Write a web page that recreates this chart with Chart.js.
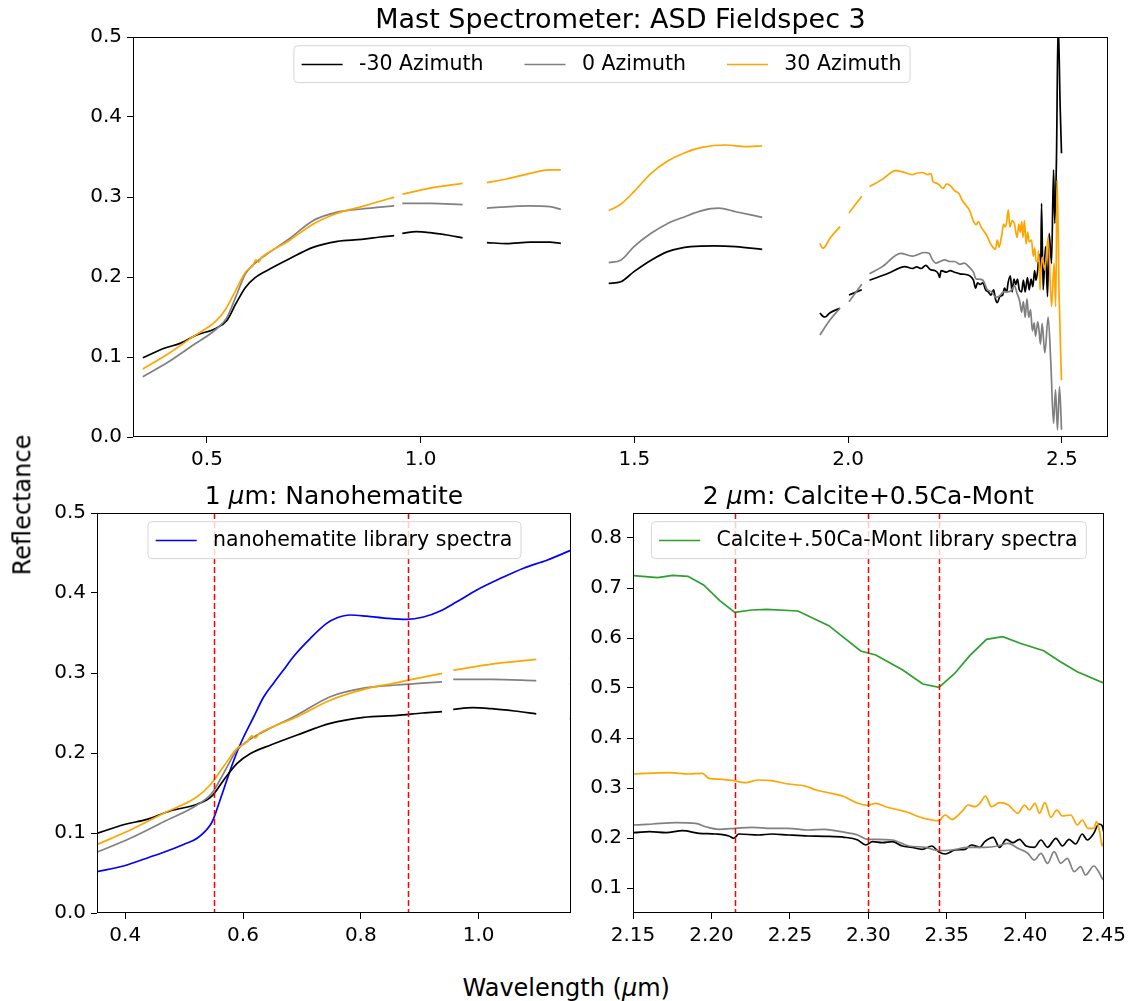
<!DOCTYPE html>
<html>
<head>
<meta charset="utf-8">
<script src="https://cdn.jsdelivr.net/npm/chart.js@4/dist/chart.umd.min.js"></script>
<style>
  body { margin: 0; background: #fff; }
  #fig { position: relative; width: 1131px; height: 1001px; font-family: "DejaVu Sans", sans-serif; color: #000; }
  #fig canvas { position: absolute; }
  .sup { position: absolute; font-size: 24px; white-space: nowrap; }
</style>
</head>
<body>
<div id="fig">
  <canvas id="mast" width="1131" height="480" style="left:0;top:0"></canvas>
  <canvas id="near" width="580" height="480" style="left:0;top:480px"></canvas>
  <canvas id="far" width="551" height="480" style="left:580px;top:480px"></canvas>
  <div class="sup" id="ylab">Reflectance</div>
  <div class="sup" id="xlab">Wavelength (<i>μ</i>m)</div>
</div>
<script>
// ---- spectra, [wavelength um, reflectance]; null marks a gap (water bands / detector joins)
var azNeg30 = [
  [0.350,0.099],[0.400,0.111],[0.437,0.117],[0.476,0.1275],[0.522,0.136],[0.547,0.146],[0.567,0.166],
  [0.590,0.187],[0.612,0.199],[0.647,0.210],[0.692,0.2225],[0.748,0.237],[0.805,0.2446],[0.862,0.247],
  [0.905,0.250],[0.938,0.2517],[0.947,null],
  [0.957,0.2546],[0.990,0.2567],[1.022,0.2554],[1.061,0.2525],[1.098,0.249],[1.127,null],
  [1.155,0.243],[1.201,0.2417],[1.256,0.2437],[1.302,0.2437],[1.328,0.242],[1.38,null],
  [1.440,0.192],[1.468,0.194],[1.499,0.2067],[1.539,0.221],[1.578,0.2317],[1.632,0.238],[1.688,0.239],
  [1.737,0.238],[1.799,0.2346],[1.86,null],
  [1.934,0.155],[1.941,0.151],[1.946,0.150],[1.957,0.155],[1.981,0.161],[1.99,null],
  [2.002,0.1775],[2.032,0.184],[2.04,null],
  [2.050,0.196],[2.094,0.2046],[2.133,0.213],
  [2.150,0.2106],[2.1605,0.2126],[2.1711,0.2106],[2.1816,0.2146],[2.1921,0.2094],[2.2026,0.208],
  [2.2111,0.204],[2.2142,0.1994],[2.2174,0.208],[2.2300,0.206],[2.2384,0.208],[2.2490,0.206],
  [2.2616,0.204],[2.2721,0.2034],[2.2847,0.2014],[2.2932,0.196],[2.2984,0.186],[2.3026,0.1926],
  [2.3089,0.1906],[2.3153,0.1926],[2.3216,0.184],[2.3279,0.1814],[2.3342,0.1774],[2.3405,0.184],
  [2.3447,0.1726],[2.3490,0.168],[2.3553,0.176],[2.3616,0.1774],[2.3658,0.186],[2.3710,0.1814],
  [2.3742,0.1926],[2.3795,0.2014],[2.3837,0.1814],[2.3879,0.1974],[2.3921,0.1906],[2.3963,0.1974],
  [2.4005,0.184],[2.4058,0.1814],[2.4100,0.196],[2.4142,0.1814],[2.4195,0.1994],[2.4237,0.184],
  [2.4279,0.1974],[2.4321,0.188],[2.4363,0.208],[2.4395,0.196],[2.4437,0.2094],[2.4468,0.228],
  [2.4490,0.2246],[2.4505,0.208],[2.4525,0.292],[2.4563,0.184],[2.4619,0.238],[2.4665,0.1754],
  [2.4703,0.2546],[2.4759,0.217],[2.4806,0.334],[2.4836,0.267],[2.4875,0.350],[2.4914,0.52],
  [2.4961,0.413],[2.4992,0.3546]
];
var az0 = [
  [0.350,0.0754],[0.4085,0.0934],[0.4653,0.114],[0.522,0.135],[0.547,0.1496],[0.567,0.1746],[0.590,0.204],
  [0.612,0.217],[0.635,0.2266],[0.692,0.2475],[0.748,0.2704],[0.805,0.281],[0.862,0.285],[0.898,0.287],
  [0.938,0.289],[0.947,null],
  [0.957,0.292],[1.022,0.292],[1.098,0.2904],[1.127,null],
  [1.155,0.286],[1.256,0.289],[1.302,0.288],[1.328,0.2846],[1.38,null],
  [1.440,0.218],[1.468,0.221],[1.499,0.238],[1.539,0.2546],[1.578,0.267],[1.618,0.2754],[1.658,0.283],
  [1.697,0.286],[1.737,0.2816],[1.799,0.2746],[1.86,null],
  [1.934,0.1275],[1.957,0.146],[1.981,0.161],[1.99,null],
  [2.002,0.169],[2.032,0.191],[2.04,null],
  [2.050,0.204],[2.080,0.213],[2.123,0.2296],
  [2.150,0.226],[2.1626,0.228],[2.1774,0.2306],[2.1900,0.2294],[2.1963,0.2226],[2.2048,0.2174],
  [2.2153,0.2194],[2.2258,0.2214],[2.2384,0.2194],[2.2490,0.2194],[2.2616,0.216],[2.2721,0.2174],
  [2.2826,0.2126],[2.2932,0.206],[2.2995,0.1974],[2.3047,0.1974],[2.3153,0.196],[2.3258,0.184],
  [2.3363,0.1814],[2.3447,0.1746],[2.3532,0.176],[2.3637,0.1814],[2.3742,0.1814],[2.3826,0.184],
  [2.3890,0.1894],[2.3953,0.1794],[2.4016,0.1694],[2.4058,0.156],[2.4100,0.1694],[2.4142,0.1494],
  [2.4184,0.1726],[2.4226,0.1494],[2.4268,0.1594],[2.4311,0.1326],[2.4353,0.1426],[2.4384,0.126],
  [2.4437,0.144],[2.4468,0.1326],[2.4500,0.116],[2.4539,0.142],[2.4602,0.105],[2.4680,0.150],
  [2.4743,0.092],[2.4806,0.017],[2.4852,0.059],[2.4898,0.009],[2.4945,0.063],[2.4992,0.009]
];
var az30 = [
  [0.350,0.085],[0.4085,0.1037],[0.4653,0.1246],[0.522,0.1454],[0.544,0.160],[0.567,0.183],[0.590,0.206],
  [0.607,0.214],[0.615,0.2215],[0.621,0.2185],[0.627,0.224],[0.635,0.2275],[0.692,0.2454],[0.748,0.266],
  [0.805,0.2796],[0.862,0.288],[0.900,0.294],[0.938,0.2996],[0.947,null],
  [0.957,0.3034],[1.022,0.311],[1.098,0.317],[1.127,null],
  [1.155,0.318],[1.201,0.3225],[1.256,0.3296],[1.302,0.334],[1.328,0.334],[1.38,null],
  [1.440,0.283],[1.468,0.291],[1.499,0.3067],[1.539,0.3296],[1.578,0.345],[1.618,0.3554],[1.658,0.362],
  [1.713,0.365],[1.761,0.363],[1.799,0.364],[1.86,null],
  [1.934,0.242],[1.940,0.236],[1.946,0.238],[1.957,0.248],[1.981,0.263],[1.99,null],
  [2.002,0.280],[2.032,0.301],[2.04,null],
  [2.050,0.313],[2.080,0.322],[2.111,0.333],[2.130,0.331],
  [2.150,0.328],[2.1584,0.3294],[2.1732,0.3306],[2.1858,0.328],[2.1942,0.3294],[2.1984,0.3194],
  [2.2068,0.3174],[2.2142,0.3146],[2.2216,0.3106],[2.2300,0.316],[2.2384,0.3146],[2.2490,0.308],
  [2.2595,0.304],[2.2668,0.296],[2.2763,0.2894],[2.2847,0.2826],[2.2932,0.2694],[2.2995,0.2654],
  [2.3047,0.2694],[2.3111,0.2626],[2.3195,0.256],[2.3258,0.2506],[2.3321,0.2426],[2.3384,0.2374],
  [2.3447,0.2346],[2.3490,0.246],[2.3532,0.2374],[2.3595,0.2526],[2.3637,0.266],[2.3679,0.2626],
  [2.3710,0.2694],[2.3747,0.284],[2.3784,0.2626],[2.3837,0.2706],[2.3890,0.2666],[2.3953,0.2494],
  [2.3995,0.266],[2.4026,0.256],[2.4062,0.2694],[2.4090,0.2494],[2.4125,0.2706],[2.4163,0.2414],
  [2.4201,0.256],[2.4237,0.244],[2.4290,0.246],[2.4332,0.226],[2.4363,0.236],[2.4399,0.2194],
  [2.4437,0.2194],[2.4454,0.2326],[2.4474,0.2126],[2.4490,0.184],[2.4505,0.1994],[2.4539,0.225],
  [2.4602,0.209],[2.4680,0.250],[2.4759,0.163],[2.4820,0.217],[2.4856,0.163],[2.4890,0.321],
  [2.4937,0.175],[2.4992,0.071]
];
// library spectra
var nanohematite = [
  [0.352,0.0516],[0.397,0.0588],[0.442,0.070],[0.4653,0.076],[0.500,0.086],[0.522,0.0934],[0.5444,0.110],
  [0.550,0.118],[0.5558,0.130],[0.567,0.154],[0.578,0.178],[0.590,0.2016],[0.601,0.220],[0.618,0.245],
  [0.635,0.270],[0.6515,0.287],[0.669,0.304],[0.6855,0.3204],[0.714,0.343],[0.742,0.362],[0.760,0.369],
  [0.782,0.3725],[0.810,0.371],[0.844,0.3684],[0.878,0.367],[0.9065,0.370],[0.935,0.3775],[0.963,0.389],
  [0.997,0.4037],[1.0367,0.418],[1.0763,0.431],[1.116,0.441],[1.1555,0.453]
];
var calciteMont = [
  [2.1503,0.7246],[2.1657,0.7206],[2.1753,0.7254],[2.1850,0.7234],[2.1950,0.706],[2.2053,0.6746],
  [2.2149,0.6514],[2.2256,0.656],[2.2352,0.6574],[2.2551,0.654],[2.2748,0.6246],[2.2951,0.574],
  [2.3047,0.566],[2.3219,0.536],[2.3347,0.508],[2.3450,0.5014],[2.3550,0.529],[2.3646,0.5646],
  [2.3753,0.5974],[2.3856,0.6026],[2.3967,0.5894],[2.4117,0.5746],[2.4224,0.5526],[2.4331,0.5326],
  [2.4502,0.5094]
];
// band centres marked with dashed lines
var hematiteBands = [0.55, 0.88];
var calciteBands = [2.215, 2.30, 2.345];
// tick positions
var wlTicksAll = [0.5, 1.0, 1.5, 2.0, 2.5];
var wlTicksNear = [0.4, 0.6, 0.8, 1.0];
var wlTicksFar = [2.15, 2.20, 2.25, 2.30, 2.35, 2.40, 2.45];
var reflTicks = [0.0, 0.1, 0.2, 0.3, 0.4, 0.5];
var reflTicksFar = [0.1, 0.2, 0.3, 0.4, 0.5, 0.6, 0.7, 0.8];

var FONT = '"DejaVu Sans"';

function toXY(arr) {
  return arr.map(function (p) { return { x: p[0], y: p[1] }; });
}

function series(arr, label, color, order, smooth) {
  return {
    label: label, data: toXY(arr), borderColor: color, backgroundColor: color,
    borderWidth: 1.7, pointRadius: 0, spanGaps: false, order: order,
    cubicInterpolationMode: smooth ? 'monotone' : 'default', tension: 0
  };
}

function azimuths(withLabels) {
  return [
    series(azNeg30, withLabels ? '-30 Azimuth' : '', '#000000', 3, true),
    series(az0, withLabels ? '0 Azimuth' : '', '#808080', 2, true),
    series(az30, withLabels ? '30 Azimuth' : '', '#ffa500', 1, true)
  ];
}

function axis(min, max, ticks, digits, size) {
  return {
    type: 'linear', min: min, max: max,
    afterBuildTicks: function (s) { s.ticks = ticks.map(function (v) { return { value: v }; }); },
    afterFit: function (s) { if (s.isHorizontal()) s.height = size; else s.width = size; },
    ticks: {
      callback: function (v) { return v.toFixed(digits); },
      color: '#000', font: { family: FONT, size: 20 }, padding: 5, autoSkip: false, maxRotation: 0
    },
    grid: { drawOnChartArea: false, tickLength: 6, color: '#000' },
    border: { display: false }
  };
}

// title with $..$ parts in italic, like mathtext
function drawTitle(ctx, text, cx, baseline, size) {
  var parts = text.split('$');
  var fonts = parts.map(function (p, i) { return (i % 2 ? 'oblique ' : '') + size + 'px ' + FONT; });
  var w = 0;
  parts.forEach(function (p, i) { ctx.font = fonts[i]; w += ctx.measureText(p).width; });
  var x = cx - w / 2;
  ctx.fillStyle = '#000';
  ctx.textAlign = 'left';
  ctx.textBaseline = 'alphabetic';
  parts.forEach(function (p, i) {
    ctx.font = fonts[i];
    ctx.fillText(p, x, baseline);
    x += ctx.measureText(p).width;
  });
}

function drawLegend(chart, opts) {
  var ctx = chart.ctx, a = chart.chartArea, f = opts.fontSize;
  var items = chart.data.datasets.filter(function (d) { return d.label; });
  ctx.font = f + 'px ' + FONT;
  var hl = 2 * f, htp = 0.8 * f, cs = 2 * f, pad = 0.4 * f, h = 1.8 * f;
  var tw = items.map(function (d) { return ctx.measureText(d.label).width; });
  var w = 2 * pad + cs * (items.length - 1);
  tw.forEach(function (t) { w += hl + htp + t; });
  var left = a.left + (a.width - w) / 2 + (opts.dx || 0);
  var top = a.top + 0.4 * f;

  ctx.beginPath();
  ctx.roundRect(left + 0.5, top + 0.5, w, h, 4);
  ctx.fillStyle = 'rgba(255,255,255,0.8)';
  ctx.fill();
  ctx.strokeStyle = '#d6d6d6';
  ctx.lineWidth = 1;
  ctx.stroke();

  var x = left + pad, cy = top + h / 2;
  ctx.textAlign = 'left';
  ctx.textBaseline = 'middle';
  items.forEach(function (d, i) {
    ctx.beginPath();
    ctx.moveTo(x, Math.round(cy) + 0.5);
    ctx.lineTo(x + hl, Math.round(cy) + 0.5);
    ctx.strokeStyle = d.borderColor;
    ctx.lineWidth = 1.7;
    ctx.stroke();
    ctx.fillStyle = '#000';
    ctx.fillText(d.label, x + hl + htp, cy + 1);
    x += hl + htp + tw[i] + cs;
  });
}

var panelDecor = {
  id: 'panelDecor',
  afterDatasetsDraw: function (chart, args, opts) {
    var ctx = chart.ctx, a = chart.chartArea, xs = chart.scales.x;
    ctx.save();
    ctx.strokeStyle = '#ff0000';
    ctx.lineWidth = 1.5;
    ctx.setLineDash([6, 3]);
    (opts.bands || []).forEach(function (v) {
      var px = Math.round(xs.getPixelForValue(v)) + 0.5;
      ctx.beginPath();
      ctx.moveTo(px, a.top);
      ctx.lineTo(px, a.bottom);
      ctx.stroke();
    });
    ctx.restore();
  },
  afterDraw: function (chart, args, opts) {
    var ctx = chart.ctx, a = chart.chartArea;
    ctx.save();
    // full box frame
    ctx.strokeStyle = '#000';
    ctx.lineWidth = 1;
    ctx.strokeRect(Math.round(a.left) + 0.5, Math.round(a.top) + 0.5,
      Math.round(a.width) - 1, Math.round(a.height) - 1);
    drawTitle(ctx, opts.title, (a.left + a.right) / 2, a.top - 9, opts.titleSize || 25);
    drawLegend(chart, opts);
    ctx.restore();
  }
};

function makeChart(id, datasets, xAxis, yAxis, padding, decor) {
  return new Chart(document.getElementById(id), {
    type: 'line',
    data: { datasets: datasets },
    options: {
      responsive: false,
      animation: false,
      events: [],
      layout: { padding: padding },
      scales: { x: xAxis, y: yAxis },
      plugins: { legend: { display: false }, tooltip: { enabled: false }, panelDecor: decor }
    },
    plugins: [panelDecor]
  });
}

// full range
makeChart('mast', azimuths(true),
  axis(0.327, 2.608, wlTicksAll, 1, 43),
  axis(0, 0.5, reflTicks, 1, 133),
  { top: 37, right: 23, bottom: 0, left: 0 },
  { title: 'Mast Spectrometer: ASD Fieldspec 3', titleSize: 27, fontSize: 20.5, dx: -19 });

// 1 um region with nanohematite
makeChart('near',
  [series(nanohematite, 'nanohematite library spectra', '#0000ff', 4, true)].concat(azimuths(false)),
  axis(0.352, 1.157, wlTicksNear, 1, 47),
  axis(0, 0.5, reflTicks, 1, 97),
  { top: 33, right: 9, bottom: 0, left: 0 },
  { title: '1 $μ$m: Nanohematite', fontSize: 20.5, bands: hematiteBands });

// 2 um region with calcite + Ca-montmorillonite
makeChart('far',
  [series(calciteMont, 'Calcite+.50Ca-Mont library spectra', '#2ca02c', 4, false)].concat(azimuths(false)),
  axis(2.15, 2.45, wlTicksFar, 2, 47),
  axis(0.05, 0.85, reflTicksFar, 1, 53),
  { top: 33, right: 23, bottom: 0, left: 0 },
  { title: '2 $μ$m: Calcite+0.5Ca-Mont', fontSize: 20.5, bands: calciteBands });

// shared axis labels
var ylab = document.getElementById('ylab');
ylab.style.left = (22 - ylab.offsetWidth / 2) + 'px';
ylab.style.top = (505 - ylab.offsetHeight / 2) + 'px';
ylab.style.transform = 'rotate(-90deg)';
var xlab = document.getElementById('xlab');
xlab.style.left = (566 - xlab.offsetWidth / 2) + 'px';
xlab.style.top = (988 - xlab.offsetHeight / 2) + 'px';
</script>
</body>
</html>
